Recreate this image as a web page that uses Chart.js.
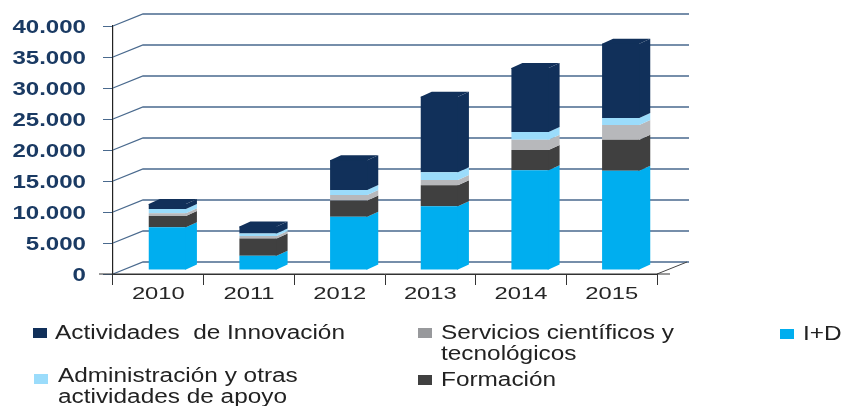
<!DOCTYPE html>
<html><head><meta charset="utf-8">
<style>html,body{margin:0;padding:0;background:#fff}#w{position:relative;width:843px;height:406px}canvas{display:block}</style>
<script src="https://cdn.jsdelivr.net/npm/chart.js@4/dist/chart.umd.min.js"></script>
</head><body><div id="w"><canvas id="c" width="843" height="406"></canvas></div>
<script>
const categories = ['2010','2011','2012','2013','2014','2015'];
const idValues = [6900,2300,8600,10300,16100,16000];
const formacionValues = [1800,2800,2600,3350,3250,5000];
const serviciosValues = [450,400,900,850,1650,2400];
const administracionValues = [700,400,800,1250,1250,1100];
const innovacionValues = [800,1100,4800,12200,10350,12000];
const seriesNames = ['I+D','Formación','Servicios científicos y tecnológicos','Administración y otras actividades de apoyo','Actividades  de Innovación'];
const seriesColors = ['#00aeef','#404040','#b7b8bb','#9bdcfb','#11305a'];
const legendSwatchColors = ['#00aeef','#404040','#98999c','#9bdcfb','#11305a'];

const DEPTH_X = 30, DEPTH_Y = 12, BAR_DX = 9, BAR_DY = 4, SIDE_X = 11, SIDE_Y = 5;
const LEG_SX = 1.25;

const wall = {
  id:'wall',
  beforeDatasetsDraw(chart){
    const {ctx, scales:{x,y}} = chart;
    ctx.save();
    ctx.strokeStyle = '#4a6a8e'; ctx.lineWidth = 1.3;
    y.ticks.forEach(t=>{
      const py = y.getPixelForValue(t.value);
      ctx.beginPath();
      ctx.moveTo(x.left,py);
      ctx.lineTo(x.left+DEPTH_X,py-DEPTH_Y);
      ctx.lineTo(x.right+DEPTH_X+2,py-DEPTH_Y);
      ctx.stroke();
    });
    const b = y.getPixelForValue(0);
    ctx.strokeStyle='#444'; ctx.lineWidth=1;
    ctx.beginPath(); ctx.moveTo(x.right,b); ctx.lineTo(x.right+DEPTH_X,b-DEPTH_Y); ctx.stroke();
    ctx.beginPath(); ctx.moveTo(x.left-14,b); ctx.lineTo(x.right+13,b); ctx.strokeStyle='#333'; ctx.stroke();
    ctx.restore();
    // bars are drawn one step into the depth of the floor
    ctx.save();
    ctx.translate(BAR_DX,-BAR_DY);
    chart.data.datasets.forEach((ds,i)=>{
      chart.getDatasetMeta(i).data.forEach(el=>{
        const p = el.getProps(['x','y','base','width'],true);
        const r = p.x+p.width/2, l = p.x-p.width/2;
        ctx.fillStyle = ds.backgroundColor;
        ctx.beginPath();
        ctx.moveTo(r-1,p.y); ctx.lineTo(r,p.y); ctx.lineTo(r+SIDE_X,p.y-SIDE_Y);
        ctx.lineTo(r+SIDE_X,p.base-SIDE_Y); ctx.lineTo(r,p.base); ctx.lineTo(r-1,p.base); ctx.closePath(); ctx.fill();
        if(i===chart.data.datasets.length-1){
          ctx.beginPath();
          ctx.moveTo(l,p.y+1); ctx.lineTo(l,p.y); ctx.lineTo(l+SIDE_X,p.y-SIDE_Y);
          ctx.lineTo(r+SIDE_X,p.y-SIDE_Y); ctx.lineTo(r,p.y); ctx.lineTo(r,p.y+1); ctx.closePath(); ctx.fill();
        }
      });
    });
  },
  afterDatasetsDraw(chart){ chart.ctx.restore(); }
};

function wideText(ctx,text,x,y,sx,align){
  ctx.save();
  ctx.translate(x,y); ctx.scale(sx,1);
  ctx.textAlign = align; ctx.textBaseline='alphabetic';
  ctx.fillText(text,0,0);
  ctx.restore();
}

const labels3d = {
  id:'labels3d',
  afterDraw(chart){
    const {ctx, scales:{x,y}} = chart;
    ctx.save();
    ctx.fillStyle='#1a3a63';
    ctx.font='bold 18.5px "Liberation Sans"';
    y.ticks.forEach(t=>wideText(ctx,t.label,86,y.getPixelForValue(t.value)+7,1.3,'right'));
    ctx.fillStyle='#262626';
    ctx.font='16.5px "Liberation Sans"';
    categories.forEach((c,i)=>wideText(ctx,c,x.getPixelForValue(i),299,1.44,'center'));
    ctx.restore();

    ctx.save();
    ctx.font='19.5px "Liberation Sans"';
    const entry=(idx,sw,lines,tx,base)=>{
      ctx.fillStyle=legendSwatchColors[idx];
      ctx.fillRect(sw[0],sw[1],14,10);
      ctx.fillStyle='#222';
      lines.forEach((s,k)=>wideText(ctx,s,tx,base+k*21,LEG_SX,'left'));
    };
    entry(4,[33,328],[seriesNames[4]],55,339);
    entry(2,[418,328],['Servicios científicos y','tecnológicos'],441,339);
    entry(0,[780,329],[seriesNames[0]],803,340);
    entry(3,[34,374],['Administración y otras','actividades de apoyo'],58,382);
    entry(1,[418,375],[seriesNames[1]],441,386);
    ctx.restore();
  }
};

new Chart(document.getElementById('c'),{
  type:'bar',
  data:{labels:categories,datasets:[idValues,formacionValues,serviciosValues,administracionValues,innovacionValues].map((d,i)=>({
    label:seriesNames[i],data:d,backgroundColor:seriesColors[i],stack:'s',clip:false,
    categoryPercentage:1,barPercentage:0.41,borderWidth:0
  }))},
  options:{
    responsive:false,animation:false,
    layout:{padding:{left:103,right:186,top:26,bottom:121}},
    plugins:{legend:{display:false},tooltip:{enabled:false},title:{display:false}},
    scales:{
      x:{stacked:true,ticks:{display:false},
         grid:{drawOnChartArea:false,offset:true,tickLength:11,color:'#333',lineWidth:1},
         border:{color:'#333'}},
      y:{stacked:true,min:0,max:40000,
         ticks:{display:false,stepSize:5000,callback:v=>String(v).replace(/\B(?=(\d{3})+$)/g,'.')},
         grid:{drawOnChartArea:false,tickLength:10,color:'#4a6a8e',lineWidth:1},
         border:{color:'#222',width:1.2}}
    }
  },
  plugins:[wall,labels3d]
});
</script></body></html>
